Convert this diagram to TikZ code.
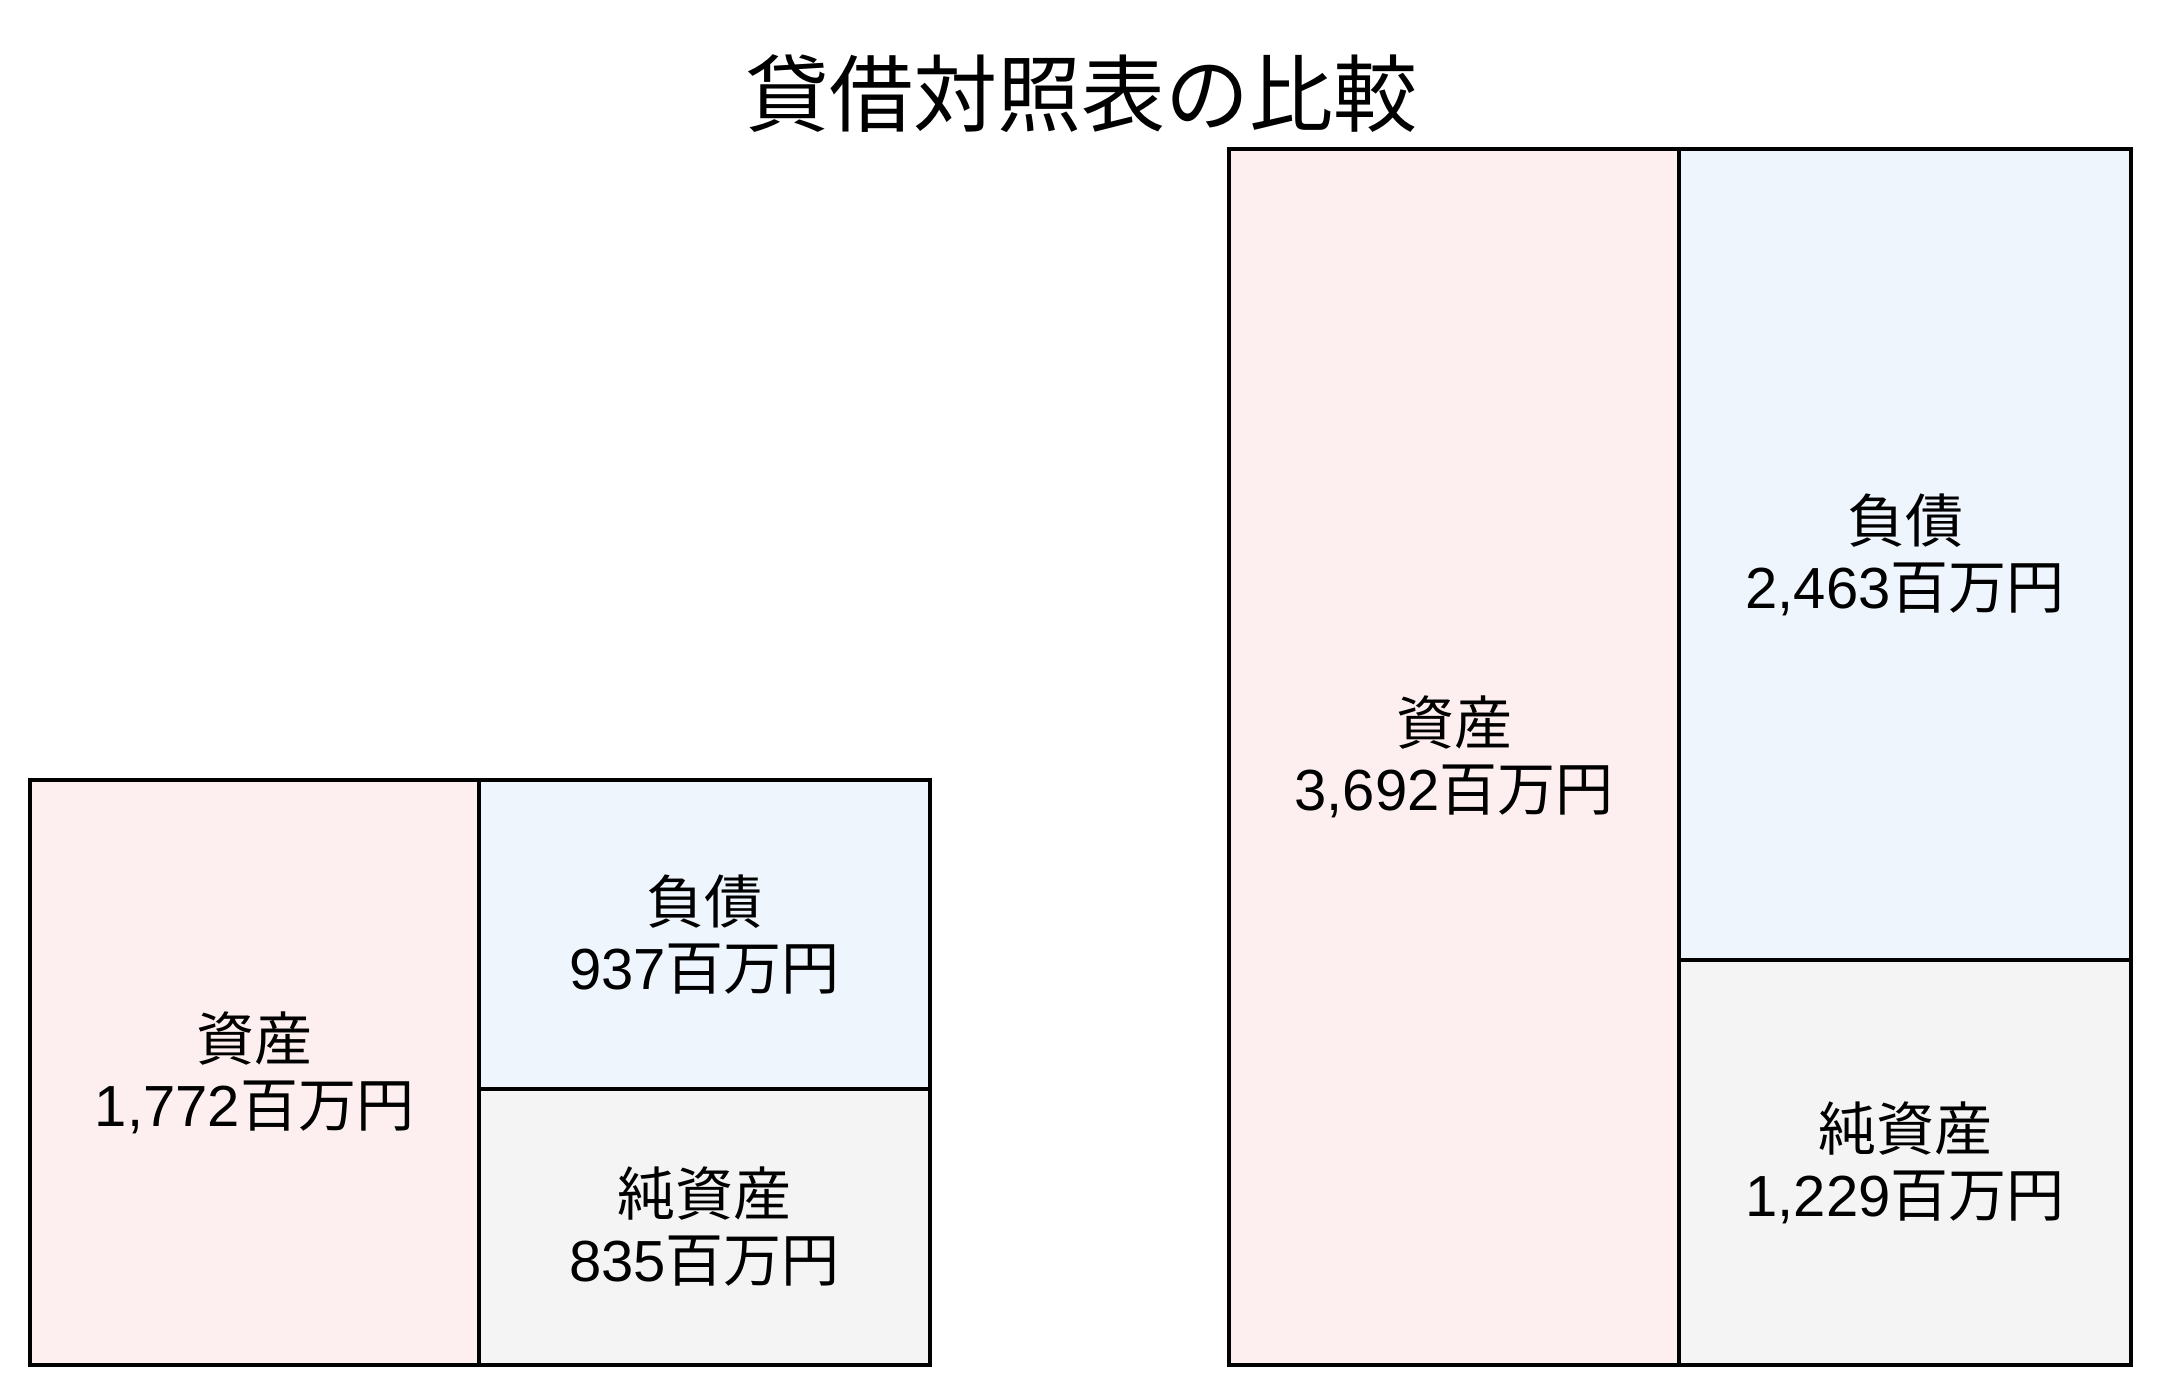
\documentclass[tikz,border=0pt]{standalone}
\usepackage{fontspec}
\setmainfont{Noto Sans CJK JP}
\newfontfamily\numfont{Liberation Sans}
\newcommand{\amount}[1]{{\numfont #1}百万円}
\definecolor{assetpink}{HTML}{FDEFEF}
\definecolor{debtblue}{HTML}{EEF5FD}
\definecolor{equitygray}{HTML}{F4F4F4}
\tikzset{
  sheet/.style={draw=black, line width=3.5pt, inner sep=0pt, outer sep=0pt, anchor=north west,
    align=center, font=\fontsize{58}{66}\selectfont},
}
\begin{document}
\begin{tikzpicture}[x=1pt,y=-1pt]
\useasboundingbox (0,0) rectangle (2160,1396);
\node (title) at (1081,94) {\fontsize{84}{90}\selectfont 貸借対照表の比較};
% left sheet
\node[sheet, fill=assetpink, minimum width=449pt, minimum height=585pt] (assetA) at (30,780) {資産\\\amount{1,772}};
\node[sheet, fill=debtblue, minimum width=451pt, minimum height=309pt] (debtA) at (assetA.north east) {負債\\\amount{937}};
\node[sheet, fill=equitygray, minimum width=451pt, minimum height=276pt] (equityA) at (debtA.south west) {純資産\\\amount{835}};
% right sheet
\node[sheet, fill=assetpink, minimum width=450pt, minimum height=1216pt] (assetB) at (1229,149) {資産\\\amount{3,692}};
\node[sheet, fill=debtblue, minimum width=452pt, minimum height=811pt] (debtB) at (assetB.north east) {負債\\\amount{2,463}};
\node[sheet, fill=equitygray, minimum width=452pt, minimum height=405pt] (equityB) at (debtB.south west) {純資産\\\amount{1,229}};
\end{tikzpicture}
\end{document}
